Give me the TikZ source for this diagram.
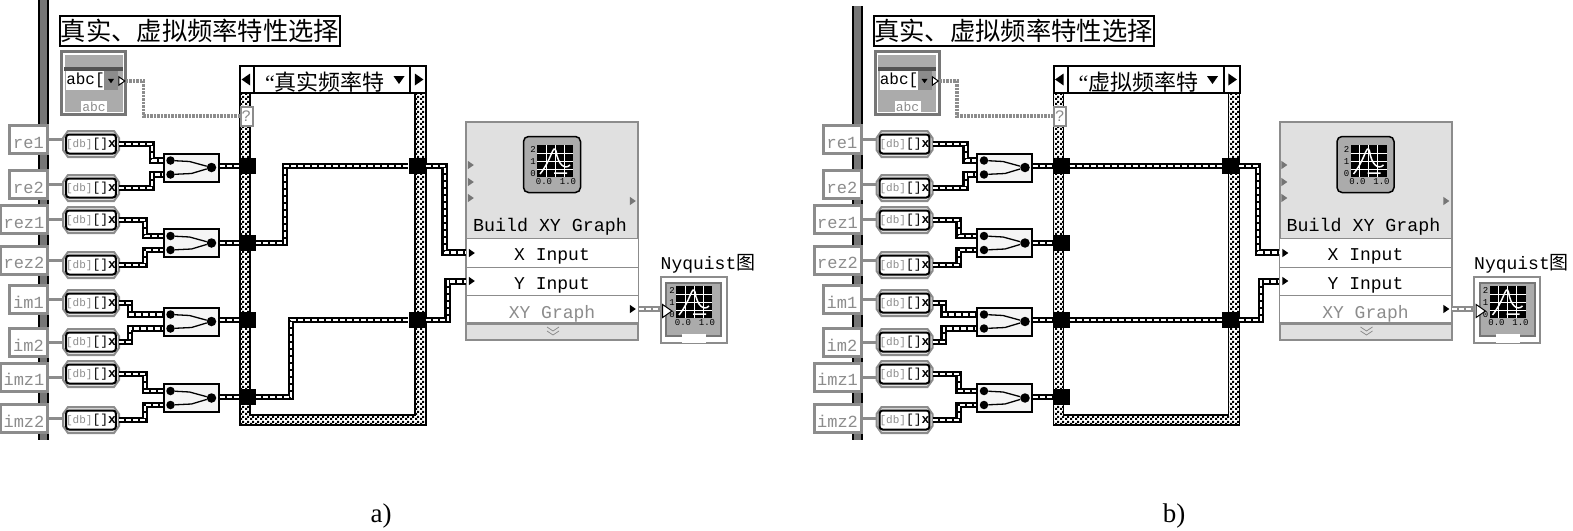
\documentclass[tikz,border=0pt]{standalone}
\usepackage{fontspec}
\setmainfont{Liberation Serif}
\setmonofont{Liberation Mono}
\newfontfamily\cjk{Noto Sans CJK SC}
\usetikzlibrary{patterns,shapes.geometric}
\pgfdeclarepatternformonly{finecheck}{\pgfpointorigin}{\pgfqpoint{5pt}{5pt}}{\pgfqpoint{5pt}{5pt}}{
    \pgfpathrectangle{\pgfpointorigin}{\pgfqpoint{2.5pt}{2.5pt}}
    \pgfpathrectangle{\pgfqpoint{2.5pt}{2.5pt}}{\pgfqpoint{2.5pt}{2.5pt}}
    \pgfusepath{fill}
}
\definecolor{wiregray}{HTML}{8C8C8C}
\definecolor{paneltint}{HTML}{E0E0E0}
\definecolor{ctlgray}{HTML}{ABABAB}
\definecolor{framegray}{HTML}{767676}
\tikzset{
    wire/.style={line width=6.5pt, black, postaction={draw=white, line width=2.2pt, dash pattern=on 5pt off 2pt}},
    strwire/.style={line width=3.5pt, wiregray, dash pattern=on 2.5pt off 1pt},
    graphwire/.style={line width=6pt, wiregray, postaction={draw=white, line width=2pt, dash pattern=on 5pt off 2pt}},
    labelbox/.style={draw=wiregray, line width=3pt, fill=white, inner sep=0pt, minimum height=28pt, text height=17pt, text depth=0pt, text=wiregray, font=\ttfamily\fontsize{17}{19}\selectfont},
    iconedge/.style={draw=wiregray, line width=2pt, fill=paneltint},
    iconbox/.style={inner sep=0pt, minimum width=56pt, minimum height=28pt},
    icontext/.style={draw=black, line width=2pt, rounded corners=3pt, fill=white, inner sep=0pt, minimum width=46pt, minimum height=19pt, font=\ttfamily\fontsize{13}{14}\selectfont},
    bundlebox/.style={draw=black, line width=2pt, fill=white!96!black, inner sep=0pt, minimum width=55pt, minimum height=28pt},
    portdot/.style={circle, fill=black, inner sep=0pt, minimum size=8.5pt},
    tunnel/.style={fill=black, inner sep=0pt, minimum width=16pt, minimum height=16pt},
    headbox/.style={draw=black, line width=2pt, fill=white, inner sep=0pt},
    mark tip/.style={isosceles triangle, isosceles triangle apex angle=70, fill=black, inner sep=0pt, minimum width=8pt, minimum height=6pt},
    rowbox/.style={draw=wiregray, line width=1pt, fill=white, inner sep=0pt, minimum width=172pt, minimum height=29pt, text height=16pt, text depth=0pt, font=\ttfamily\fontsize{18}{20}\selectfont},
}
\newcommand{\plotglyph}[2]{
    \begin{scope}[shift={(#1,#2)}]
        \fill[black] (-18,-16) rectangle (18,16);
        \draw[white, line width=0.8pt] (-18,-8) -- (18,-8) (-18,0) -- (18,0) (-18,8) -- (18,8)
            (-9,-16) -- (-9,16) (0,-16) -- (0,16) (9,-16) -- (9,16);
        \draw[white, line width=1.5pt] (-15,13) .. controls (-3,-2) and (-2,-18) .. (1,-10) .. controls (3,4) and (10,9) .. (15,4) (-1,12) -- (12,12);
        \node[font=\ttfamily\fontsize{9}{9}\selectfont] at (-22,-12) {2};
        \node[font=\ttfamily\fontsize{9}{9}\selectfont] at (-22,1) {1};
        \node[font=\ttfamily\fontsize{9}{9}\selectfont] at (-22,13) {0};
        \node[font=\ttfamily\fontsize{9}{9}\selectfont] at (-11,21) {0.0};
        \node[font=\ttfamily\fontsize{9}{9}\selectfont] at (13,21) {1.0};
    \end{scope}
}
\newcommand{\vipanel}[4]{
    \begin{scope}[shift={(#2,0)}, name prefix=#1-]
        % vertical bar behind the labels
        \fill[black] (38,#4) rectangle (49,440);
        \fill[framegray] (40,#4) rectangle (47,440);
        \node[draw=black, line width=2pt, fill=white, inner sep=0pt, minimum width=280pt, minimum height=30pt, font=\cjk\fontsize{25.3}{28}\selectfont]
            (title) at (200,30.5) {真实、虚拟频率特性选择};
        % string control
        \node[draw=framegray, line width=3pt, fill=white, inner sep=0pt, minimum width=64pt, minimum height=63pt] (ctlout) at (93.5,83) {};
        \node[fill=ctlgray, inner sep=0pt, minimum width=58pt, minimum height=57pt] (ctl) at (93.5,83) {};
        \fill[framegray!70!black] (ctl.west |- 0,67) rectangle (ctl.east |- 0,71);
        \node[fill=white, inner sep=0pt, minimum width=37pt, minimum height=19pt, font=\ttfamily\fontsize{16}{17}\selectfont] (ctlval) at (85.5,80.5) {abc[};
        \node[fill=wiregray, inner sep=0pt, minimum width=14pt, minimum height=19pt] (ctlbtn) at (111,80.5) {};
        \node[mark tip, shape border rotate=270, minimum width=6pt, minimum height=4pt] (ctlarw) at (ctlbtn.center) {};
        \node[mark tip, draw=black, fill=white, line width=1pt] (ctlend) at (121,81) {};
        \node[fill=white, inner sep=0pt, minimum width=26pt, minimum height=12pt, text=wiregray, font=\ttfamily\fontsize{13}{14}\selectfont] (ctllbl) at (94,107) {abc};
        % case frame
        \fill[pattern=finecheck, pattern color=black, even odd rule] (240,66) rectangle (426,425) (250,93) rectangle (415,415);
        \draw[black, line width=1.5pt] (240,66) rectangle (426,425) (250,93) rectangle (415,415);
        \node[headbox, minimum width=186pt, minimum height=27pt] (casehd) at (333,79.5) {};
        \node[headbox, minimum width=14pt, minimum height=27pt] (caseprev) at (247,79.5) {};
        \node[headbox, minimum width=16pt, minimum height=27pt] (casenext) at (418,79.5) {};
        \node[mark tip, shape border rotate=180, minimum width=12pt, minimum height=8pt] (prevarw) at (caseprev.center) {};
        \node[mark tip, minimum width=12pt, minimum height=8pt] (nextarw) at (casenext.center) {};
        \node[inner sep=0pt, font=\fontsize{22}{24}\selectfont] (casetxt) at (325,82) {“\cjk #3};
        \node[mark tip, shape border rotate=270, minimum width=11pt, minimum height=6pt] (casedrop) at (399,79) {};
        \node[draw=wiregray, line width=2pt, fill=white, inner sep=0pt, minimum width=12pt, minimum height=19pt, text=wiregray, font=\ttfamily\fontsize{16}{18}\selectfont] (selq) at (246.5,116) {?};
        \draw[strwire] (ctlend.east) -- ++(18,0) |- (selq.west);
        % labels and converters
        \foreach \nm/\cx/\bw/\ly/\iy in {re1/28.5/38/139.5/144, re2/28.5/38/184.5/188, rez1/24/47/219.5/220, rez2/24/47/260/265,
                im1/28.5/38/299.5/303, im2/28.5/38/342.5/342, imz1/24/47/377/374, imz2/24/47/418.5/420} {
            \draw[iconedge] (91,\iy) ++(-28,-6) -- ++(5,-7) -- ++(46,0) -- ++(5,7) -- ++(0,12) -- ++(-5,7) -- ++(-46,0) -- ++(-5,-7) -- cycle;
            \node[iconbox] (\nm-i) at (91,\iy) {};
            \node[icontext] (\nm-t) at (91,\iy) {{\color{wiregray}\fontsize{11}{12}\selectfont[db]}[]\textbf{x}};
            \node[labelbox, minimum width=\bw pt] (\nm) at (\cx,\ly) {\nm};
            \draw[wiregray, line width=3pt] (\nm.east) -- (\nm.east -| \nm-i.west);
        }
        % bundles and left tunnels
        \foreach \k/\ya/\yt/\ia/\ib/\dx in {1/167.5/166/re1/re2/33, 2/243/243/rez1/rez2/26, 3/321.5/320/im1/im2/11, 4/398/397/imz1/imz2/26} {
            \node[bundlebox] (bun\k) at (191,\ya) {};
            \node[portdot] (bun\k a) at ([shift={(8,-7)}]bun\k.west) {};
            \node[portdot] (bun\k b) at ([shift={(8,7)}]bun\k.west) {};
            \node[portdot, minimum size=9.5pt] (bun\k o) at ([shift={(-8,0)}]bun\k.east) {};
            \draw[black, line width=1.3pt] (bun\k a) -- ++(19,1) -- (bun\k o) -- ++(-20,6) -- (bun\k b);
            \node[tunnel] (ltun\k) at (248,\yt) {};
            \draw[wire] (\ia-i.east) -- ++(\dx,0) |- (bun\k a -| bun\k.west);
            \draw[wire] (\ib-i.east) -- ++(\dx,0) |- (bun\k b -| bun\k.west);
            \draw[wire] (ltun\k.west -| bun\k.east) -- (ltun\k.west);
        }
        \node[tunnel, minimum width=17pt] (rtun1) at (417,166) {};
        \node[tunnel, minimum width=17pt] (rtun2) at (417,320) {};
        % Build XY Graph
        \node[draw=wiregray, line width=2pt, fill=paneltint, inner sep=0pt, minimum width=172pt, minimum height=218pt] (bld) at (552,231) {};
        \node[rowbox] (xin) at (552,252.5) {X Input};
        \node[rowbox] (yin) at (552,281.5) {Y Input};
        \node[rowbox, text=wiregray] (xyout) at (552,310) {XY Graph};
        \node[inner sep=0pt, font=\ttfamily\fontsize{18.3}{20}\selectfont] (bldtxt) at (550,227) {Build XY Graph};
        \draw[wiregray, line width=2pt] (bld.west |- 0,323) -- (bld.east |- 0,323);
        \node[rounded corners=5pt, draw=black, line width=1.5pt, fill=ctlgray, inner sep=0pt, minimum width=57pt, minimum height=56pt] (bldicon) at (552,164.5) {};
        \plotglyph{555}{161}
        \foreach \k/\y in {1/165, 2/182, 3/198} {
            \node[mark tip, fill=framegray] (inm\k) at (470,\y) {};
        }
        \node[mark tip, fill=framegray] (outm) at (632,201) {};
        \node[mark tip] (xmk) at (471,253) {};
        \node[mark tip] (ymk) at (471,281) {};
        \node[mark tip] (omk) at (632,309) {};
        \draw[wiregray, line width=0.8pt] (547,327) -- (553,331) -- (559,327) (547,331) -- (553,335) -- (559,331);
        \draw[wire] (rtun1.east) -- ++(19,0) |- (xin.west);
        \draw[wire] (rtun2.east) -- ++(22,0) |- (yin.west);
        % Nyquist indicator
        \node[draw=wiregray, line width=2pt, fill=white, inner sep=0pt, minimum width=66pt, minimum height=66pt] (nyq) at (693.5,310) {};
        \node[draw=framegray, line width=2pt, fill=ctlgray, inner sep=0pt, minimum width=55pt, minimum height=53pt] (nyqin) at (693.5,309.5) {};
        \plotglyph{694}{302}
        \node[fill=white, inner sep=0pt, minimum width=24pt, minimum height=9pt] (nyqtag) at (694,338) {};
        \node[mark tip, draw=black, fill=white, line width=1pt, minimum width=13pt, minimum height=7pt] (nyqend) at (666,311) {};
        \node[inner sep=0pt, font=\ttfamily\fontsize{18}{20}\selectfont] (nyqtxt) at (708,263.5) {Nyquist{\cjk\fontsize{19}{20}\selectfont 图}};
        \draw[graphwire] (omk.east -| xyout.east) -- (omk.east -| nyq.west);
    \end{scope}
}
\begin{document}
\begin{tikzpicture}[x=1pt, y=-1pt]
    \useasboundingbox (0,0) rectangle (1573,530);
    \vipanel{a}{0}{真实频率特}{0}
    \vipanel{b}{813.5}{虚拟频率特}{6}
    % wires inside the case frames
    \draw[wire] (a-ltun2.east) -- ++(29,0) |- (a-rtun1.west);
    \draw[wire] (a-ltun4.east) -- ++(35,0) |- (a-rtun2.west);
    \draw[wire] (b-ltun1.east) -- (b-rtun1.west);
    \draw[wire] (b-ltun3.east) -- (b-rtun2.west);
    \node[font=\fontsize{27}{29}\selectfont] (capa) at (381,516) {a)};
    \node[font=\fontsize{27}{29}\selectfont] (capb) at (1174,516) {b)};
\end{tikzpicture}
\end{document}
